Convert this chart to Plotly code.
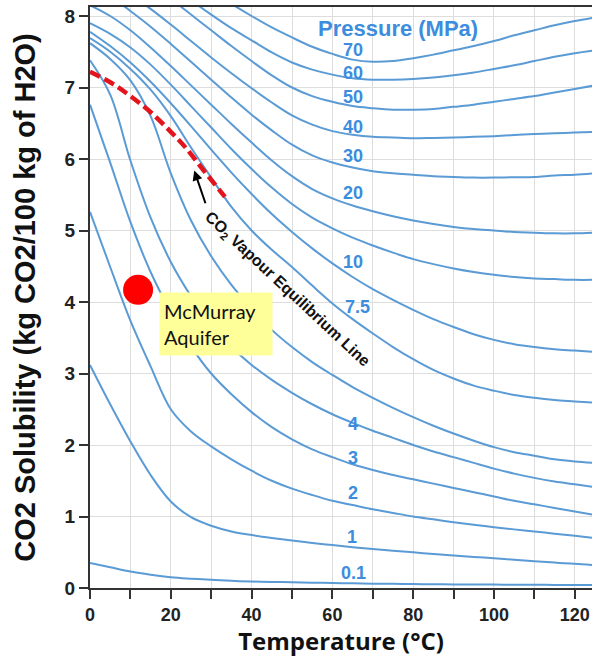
import plotly.graph_objects as go

# Temperature grid (°C)
temps = list(range(0, 130, 5))

# CO2 solubility (kg CO2 / 100 kg H2O) per pressure (MPa)
s_0_1 = [0.35, 0.29, 0.23, 0.185, 0.15, 0.13, 0.115, 0.10, 0.09, 0.085, 0.08, 0.075, 0.07, 0.065, 0.06, 0.058, 0.055, 0.052, 0.05, 0.05, 0.048, 0.046, 0.045, 0.043, 0.042, 0.04]
s_1 = [3.12, 2.57, 2.05, 1.58, 1.21, 0.99, 0.87, 0.79, 0.74, 0.70, 0.665, 0.63, 0.60, 0.57, 0.545, 0.52, 0.50, 0.475, 0.455, 0.435, 0.415, 0.395, 0.375, 0.355, 0.34, 0.32]
s_2 = [5.26, 4.49, 3.74, 3.10, 2.50, 2.19, 1.98, 1.80, 1.64, 1.50, 1.39, 1.30, 1.22, 1.16, 1.10, 1.05, 1.00, 0.96, 0.92, 0.885, 0.85, 0.82, 0.79, 0.76, 0.73, 0.70]
s_3 = [6.76, 5.95, 5.12, 4.42, 3.86, 3.38, 3.00, 2.71, 2.46, 2.25, 2.08, 1.94, 1.83, 1.73, 1.65, 1.58, 1.52, 1.46, 1.40, 1.34, 1.28, 1.22, 1.17, 1.12, 1.07, 1.02]
s_4 = [7.38, 6.90, 5.98, 5.18, 4.56, 4.08, 3.68, 3.37, 3.12, 2.91, 2.73, 2.57, 2.43, 2.31, 2.20, 2.10, 2.00, 1.91, 1.83, 1.75, 1.67, 1.60, 1.54, 1.49, 1.45, 1.41]
s_5 = [7.62, 7.40, 7.10, 6.60, 5.80, 5.14, 4.64, 4.24, 3.91, 3.61, 3.37, 3.16, 2.98, 2.81, 2.66, 2.52, 2.39, 2.27, 2.16, 2.06, 1.97, 1.90, 1.85, 1.80, 1.77, 1.75]
s_7_5 = [7.69, 7.50, 7.26, 6.97, 6.60, 6.16, 5.74, 5.33, 5.00, 4.73, 4.49, 4.23, 3.98, 3.76, 3.56, 3.37, 3.20, 3.05, 2.93, 2.83, 2.76, 2.70, 2.66, 2.63, 2.61, 2.59]
s_10 = [7.78, 7.58, 7.35, 7.08, 6.78, 6.46, 6.13, 5.81, 5.51, 5.23, 4.98, 4.75, 4.54, 4.35, 4.18, 4.03, 3.89, 3.76, 3.65, 3.55, 3.47, 3.41, 3.37, 3.34, 3.32, 3.30]
s_15 = [7.90, 7.75, 7.56, 7.32, 7.04, 6.74, 6.44, 6.14, 5.86, 5.60, 5.37, 5.18, 5.03, 4.90, 4.79, 4.69, 4.60, 4.53, 4.47, 4.42, 4.38, 4.35, 4.33, 4.32, 4.31, 4.31]
s_20 = [8.15, 8.00, 7.80, 7.56, 7.30, 7.03, 6.76, 6.49, 6.23, 5.98, 5.76, 5.58, 5.45, 5.35, 5.27, 5.20, 5.14, 5.09, 5.05, 5.02, 5.00, 4.98, 4.97, 4.96, 4.96, 4.97]
s_30 = [8.45, 8.28, 8.07, 7.85, 7.61, 7.36, 7.11, 6.86, 6.62, 6.40, 6.20, 6.05, 5.95, 5.88, 5.83, 5.80, 5.78, 5.76, 5.75, 5.74, 5.74, 5.745, 5.75, 5.77, 5.78, 5.80]
s_40 = [8.70, 8.50, 8.30, 8.10, 7.88, 7.65, 7.42, 7.20, 6.99, 6.79, 6.61, 6.48, 6.39, 6.34, 6.31, 6.30, 6.29, 6.295, 6.30, 6.31, 6.32, 6.335, 6.35, 6.36, 6.37, 6.38]
s_50 = [9.00, 8.80, 8.62, 8.44, 8.24, 8.02, 7.80, 7.58, 7.37, 7.17, 7.00, 6.88, 6.80, 6.74, 6.71, 6.69, 6.69, 6.70, 6.73, 6.76, 6.80, 6.84, 6.88, 6.93, 6.98, 7.03]
s_60 = [9.20, 9.02, 8.84, 8.64, 8.43, 8.22, 8.02, 7.83, 7.66, 7.49, 7.35, 7.25, 7.18, 7.13, 7.11, 7.11, 7.12, 7.14, 7.17, 7.21, 7.26, 7.31, 7.37, 7.43, 7.48, 7.52]
s_70 = [9.50, 9.30, 9.10, 8.90, 8.70, 8.52, 8.35, 8.17, 8.00, 7.84, 7.70, 7.57, 7.47, 7.39, 7.36, 7.37, 7.41, 7.46, 7.52, 7.58, 7.65, 7.73, 7.80, 7.87, 7.93, 7.98]

pressures = ["0.1", "1", "2", "3", "4", "5", "7.5", "10", "15", "20", "30", "40", "50", "60", "70"]
series = [s_0_1, s_1, s_2, s_3, s_4, s_5, s_7_5, s_10, s_15, s_20, s_30, s_40, s_50, s_60, s_70]

# CO2 vapour equilibrium line
vle_t = [0, 5.4, 10, 15.3, 20, 23.5, 28, 33.4]
vle_s = [7.22, 7.06, 6.88, 6.64, 6.38, 6.17, 5.85, 5.47]

# McMurray aquifer point
aq_t = [11.9]
aq_s = [4.17]

# Pressure labels (text, temperature, solubility)
label_text = ["70", "60", "50", "40", "30", "20", "10", "7.5", "4", "3", "2", "1", "0.1"]
label_t = [65.1, 65.1, 65.1, 65.1, 65.1, 65.1, 65.1, 66.1, 65.1, 65.1, 65.1, 64.9, 65.1]
label_s = [7.52, 7.20, 6.87, 6.45, 6.04, 5.52, 4.56, 3.93, 2.29, 1.82, 1.33, 0.71, 0.21]

line_color = "#5B9BD5"
label_color = "#3C8DDE"

fig = go.Figure()
for p, vals in zip(pressures, series):
    fig.add_trace(go.Scatter(x=temps, y=vals, mode="lines", name=p + " MPa",
                             line=dict(color=line_color, width=2, shape="spline", smoothing=1.0),
                             hoverinfo="skip", showlegend=False))

fig.add_trace(go.Scatter(x=vle_t, y=vle_s, mode="lines",
                         line=dict(color="#E3141B", width=4.5, dash="11px,5px", shape="spline"),
                         showlegend=False, hoverinfo="skip"))

fig.add_trace(go.Scatter(x=aq_t, y=aq_s, mode="markers",
                         marker=dict(color="#FF0000", size=30, line=dict(width=0)),
                         showlegend=False, hoverinfo="skip"))

for t, x, y in zip(label_text, label_t, label_s):
    fig.add_annotation(x=x, y=y, text=t, showarrow=False,
                       font=dict(family="Liberation Sans, Arial", size=18, color=label_color, weight="bold"))

fig.add_annotation(x=76.2, y=7.83, text="Pressure (MPa)", showarrow=False,
                   font=dict(family="Liberation Sans, Arial", size=22, color=label_color, weight="bold"))

# Arrow pointing to the vapour line
fig.add_annotation(x=25.8, y=5.84, ax=28.7, ay=5.36, axref="x", ayref="y", xref="x", yref="y",
                   text="", showarrow=True, arrowhead=2, arrowsize=1, arrowwidth=2, arrowcolor="black")

fig.add_annotation(x=48.8, y=4.18, text="CO<sub>2</sub> Vapour Equilibrium Line", showarrow=False,
                   textangle=43,
                   font=dict(family="Liberation Sans, Arial", size=16, color="#111111", weight="bold"))

fig.add_annotation(x=31.2, y=3.69, text="McMurray<br>Aquifer", showarrow=False,
                   align="left", bgcolor="#FFFF99", width=104, height=54, borderpad=4,
                   font=dict(family="Lato, Carlito, sans-serif", size=20, color="#111111"))

fig.update_layout(
    width=592, height=657,
    margin=dict(l=90, r=0, t=7, b=69, autoexpand=False),
    paper_bgcolor="white", plot_bgcolor="white",
    showlegend=False,
)
fig.update_xaxes(range=[0, 124.26], tick0=0, dtick=20, showgrid=True, gridcolor="#DDDDDD", gridwidth=1,
                 minor=dict(dtick=10, showgrid=True, gridcolor="#DDDDDD", ticks="outside", ticklen=9, tickcolor="#333333"),
                 ticks="outside", ticklen=9, tickwidth=2, tickcolor="#333333", automargin=False,
                 showline=True, linewidth=2, linecolor="#333333", mirror=True, zeroline=False,
                 tickfont=dict(family="Liberation Sans, Arial", size=18, color="#222222", weight="bold"),
                 title=dict(text="Temperature (°C)", standoff=7,
                            font=dict(family="Open Sans, sans-serif", size=24, color="#111111", weight="bold")))
fig.update_yaxes(range=[0, 8.126], tick0=0, dtick=1, showgrid=True, gridcolor="#DDDDDD", gridwidth=1,
                 ticks="outside", ticklen=9, tickwidth=2, tickcolor="#333333", automargin=False,
                 showline=True, linewidth=2, linecolor="#333333", mirror=False, zeroline=False,
                 tickfont=dict(family="Liberation Sans, Arial", size=19, color="#222222", weight="bold"),
                 title=dict(text="CO2 Solubility (kg CO2/100 kg of H2O)", standoff=20,
                            font=dict(family="Liberation Sans, Arial", size=29, color="#111111", weight="bold")))

fig.write_html("out.html", config={"displayModeBar": False},
               post_script="document.body.style.margin='0px';document.body.style.overflow='hidden';")
